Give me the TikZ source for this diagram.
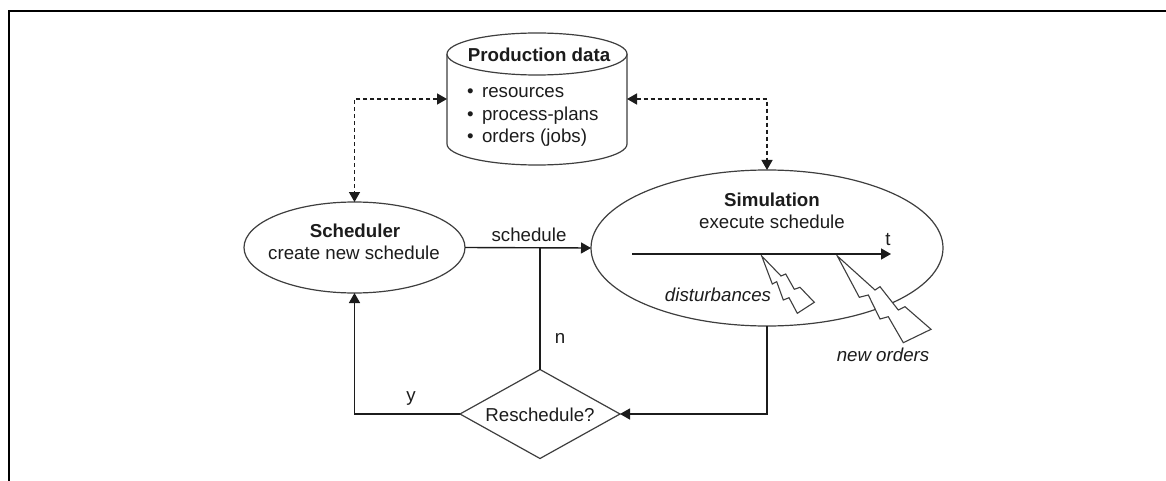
\documentclass[tikz,border=0pt]{standalone}
\usepackage{fontspec}
\setmainfont{Liberation Sans}
\usetikzlibrary{shapes.geometric,arrows.meta,calc}
\definecolor{ink}{HTML}{1C1C1C}
\tikzset{
  every node/.style={text=ink,font=\fontsize{18.7}{22.4}\selectfont},
  shapeline/.style={draw=ink!85!white,line width=1.2pt,fill=white},
  bubble/.style={shape=ellipse,shapeline,inner sep=0pt,outer sep=0pt},
  conn/.style={draw=ink,line width=1.4pt,-{Triangle[length=10pt,width=11pt]}},
  plainconn/.style={draw=ink,line width=1.4pt},
  dashconn/.style={draw=ink,line width=1.4pt,dash pattern=on 4pt off 3pt,{Triangle[length=10pt,width=11pt]}-{Triangle[length=10pt,width=11pt]}},
  bolt/.style={draw=ink!85!white,line width=1.1pt,fill=white,line join=miter},
  lbl/.style={inner sep=0pt,outer sep=0pt},
  frameline/.style={draw=black,line width=2pt}
}
\begin{document}
\begin{tikzpicture}[x=1pt,y=-1pt]
\useasboundingbox (0,0) rectangle (1166,481);
\fill[white] (0,0) rectangle (1166,481);
\draw[frameline] (9,481) -- (9,11) -- (1166,11);
% cylinder
\node[inner sep=0pt,outer sep=0pt,minimum width=180pt,minimum height=132pt] (db) at (537,99) {};
\draw[shapeline] (447,54) -- (447,144) arc[start angle=180,end angle=360,x radius=90pt,y radius=21pt] -- (627,54);
\draw[shapeline] (537,54) ellipse[x radius=90pt,y radius=21pt];
% shapes
\node[bubble,minimum width=221pt,minimum height=91pt] (sch) at (354.5,247.5) {};
\node[bubble,minimum width=352pt,minimum height=156pt] (sim) at (767,248) {};
\node[shape=diamond,shapeline,inner sep=0pt,outer sep=0pt,minimum width=160pt,minimum height=89pt] (dec) at (540,414) {};
% texts
\node[lbl,font=\fontsize{18.7}{22.4}\selectfont\bfseries] (dbtitle) at (539,55) {Production data};
\node[lbl,anchor=base west] (b1) at (467,98) {•\hspace{8.5pt}resources};
\node[lbl,anchor=base west] (b2) at (467,121) {•\hspace{8.5pt}process-plans};
\node[lbl,anchor=base west] (b3) at (467,143) {•\hspace{8.5pt}orders (jobs)};
\node[lbl,font=\fontsize{18.7}{22.4}\selectfont\bfseries] (schtitle) at (355,231) {Scheduler};
\node[lbl] (schtext) at (354,253) {create new schedule};
\node[lbl,font=\fontsize{18.7}{22.4}\selectfont\bfseries] (simtitle) at (772,200) {Simulation};
\node[lbl] (simtext) at (772,222) {execute schedule};
\node[lbl] (sched) at (529,235) {schedule};
\node[lbl] (tlab) at (888,240) {t};
\node[lbl,font=\fontsize{18.7}{22.4}\selectfont\itshape] (dist) at (718,295) {disturbances};
\node[lbl,font=\fontsize{18.7}{22.4}\selectfont\itshape] (neword) at (883,355) {new orders};
\node[lbl] (nlab) at (560,338) {n};
\node[lbl] (ylab) at (411,398) {y};
\node[lbl] (dectext) at (540,415) {Reschedule?};
% bolts
\draw[bolt] (761.7,256) -- (781,276) -- (785.7,274) -- (794.3,289.3) -- (800,287.3) -- (814.3,302.3) -- (797.3,313.3) -- (789,297.7) -- (783.3,300) -- (776.7,281.7) -- (772.3,284) -- cycle;
\draw[bolt] (837.3,256) -- (875,290) -- (880,286.7) -- (898.3,310) -- (905,306.7) -- (931,329.3) -- (903.3,342.7) -- (888.3,316.7) -- (880,319) -- (868.3,295) -- (859.3,297.3) -- cycle;
% time axis
\coordinate (tstart) at (632,254);
\coordinate (tend) at (891,254);
\draw[conn] (tstart) -- (tend);
% connectors
\coordinate (junc) at (540,247.5);
\draw[conn] (sch.east) -- (sim.west);
\draw[plainconn] (dec.north) -- (junc);
\draw[conn] (dec.west) -| (sch.south);
\draw[conn] (sim.south) |- (dec.east);
\draw[dashconn] (db.west) -| (sch.north);
\draw[dashconn] (db.east) -| (sim.north);
\end{tikzpicture}
\end{document}
